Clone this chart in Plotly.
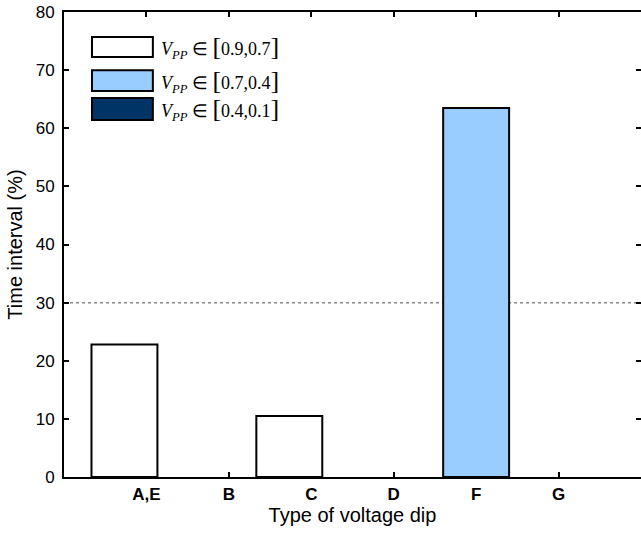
import plotly.graph_objects as go

categories = ["A,E", "B", "C", "D", "F", "G"]
positions = [1, 2, 3, 4, 5, 6]
series_names = [
    "<i>V</i><sub><i>PP</i></sub> ∈ <span style='font-size:26px'>[</span>0.9,0.7<span style='font-size:26px'>]</span>",
    "<i>V</i><sub><i>PP</i></sub> ∈ <span style='font-size:26px'>[</span>0.7,0.4<span style='font-size:26px'>]</span>",
    "<i>V</i><sub><i>PP</i></sub> ∈ <span style='font-size:26px'>[</span>0.4,0.1<span style='font-size:26px'>]</span>",
]
series_colors = ["#FFFFFF", "#99CCFF", "#003366"]
vpp_09_07 = [22.8, None, 10.5, None, None, None]
vpp_07_04 = [None, None, None, None, 63.5, None]
vpp_04_01 = [None, None, None, None, None, None]
series_values = [vpp_09_07, vpp_07_04, vpp_04_01]
threshold = 30
y_ticks = [0, 10, 20, 30, 40, 50, 60, 70, 80]

fig = go.Figure()
for name, color, vals in zip(series_names, series_colors, series_values):
    fig.add_trace(go.Bar(
        x=positions, y=vals, name=name, width=0.8,
        marker=dict(color=color, line=dict(color="black", width=2)),
        showlegend=False,
    ))

fig.add_hline(y=threshold, line=dict(color="#888888", width=1.5, dash="dot"), layer="below")

# custom legend (wide patches)
leg_x0, leg_x1, text_x = 0.0485, 0.154, 0.165
leg_rows = [(0.903, 0.946), (0.830, 0.875), (0.768, 0.815)]
for (y0, y1), name, color in zip(leg_rows, series_names, series_colors):
    fig.add_shape(type="rect", xref="paper", yref="paper", x0=leg_x0, x1=leg_x1,
                  y0=y0, y1=y1, fillcolor=color, line=dict(color="black", width=2))
    fig.add_annotation(xref="paper", yref="paper", x=text_x, y=(y0 + y1) / 2,
                       text=name, showarrow=False, xanchor="left", yanchor="middle",
                       font=dict(family="Liberation Serif", size=18, color="black"))

fig.update_layout(
    width=641, height=533,
    margin=dict(l=64, r=0, t=12, b=56),
    paper_bgcolor="white", plot_bgcolor="white",
    font=dict(family="Liberation Sans, Arial", color="black"),
    bargap=0.2,
)
fig.update_xaxes(
    range=[0, 7], tickvals=positions, ticktext=["<b>%s</b>" % c for c in categories],
    ticks="inside", ticklen=5, tickwidth=2, tickcolor="black",
    showline=True, linecolor="black", linewidth=2, mirror="ticks",
    showgrid=False, zeroline=False, layer="below traces", automargin=False,
    tickfont=dict(size=17), ticklabelstandoff=1,
    title=dict(text="Type of voltage dip", font=dict(size=20), standoff=5),
)
fig.update_yaxes(
    range=[0, 80], tickvals=y_ticks,
    ticks="inside", ticklen=5, tickwidth=2, tickcolor="black",
    showline=True, linecolor="black", linewidth=2, mirror="ticks",
    showgrid=False, zeroline=False, layer="below traces", automargin=False,
    tickfont=dict(size=17), ticklabelstandoff=4,
    title=dict(text="Time interval (%)", font=dict(size=20), standoff=8),
)

fig.write_html("out.html", config={"displayModeBar": False},
               post_script="document.body.style.margin='0';document.body.style.overflow='hidden';")
